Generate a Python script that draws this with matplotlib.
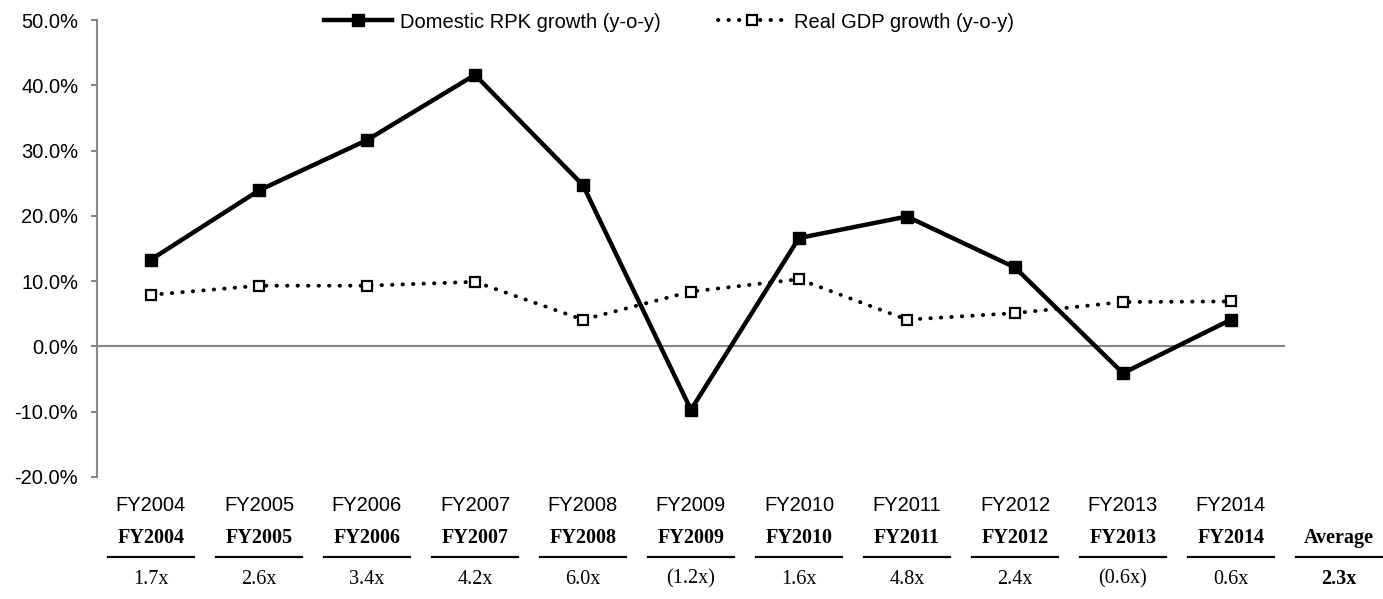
import numpy as np
import matplotlib.pyplot as plt
from matplotlib.ticker import PercentFormatter
from matplotlib.transforms import blended_transform_factory

years = ['FY2004', 'FY2005', 'FY2006', 'FY2007', 'FY2008', 'FY2009',
         'FY2010', 'FY2011', 'FY2012', 'FY2013', 'FY2014']
rpk_growth = [13.3, 23.9, 31.6, 41.6, 24.7, -9.7, 16.6, 19.9, 12.1, -4.1, 4.1]
gdp_growth = [7.9, 9.3, 9.3, 9.9, 4.1, 8.4, 10.3, 4.1, 5.1, 6.8, 6.9]
multiples = ['1.7x', '2.6x', '3.4x', '4.2x', '6.0x', '(1.2x)',
             '1.6x', '4.8x', '2.4x', '(0.6x)', '0.6x']
avg_label = 'Average'
avg_multiple = '2.3x'

plt.rcParams['font.family'] = ['Liberation Sans', 'DejaVu Sans']
plt.rcParams['axes.unicode_minus'] = False
grey = '#878787'
fs = 14.5

fig = plt.figure(figsize=(13.83, 5.99), dpi=100)
ax = fig.add_axes([0.0701, 0.2037, 0.8590, 0.7629])

x = np.arange(len(years))
ax.plot(x, rpk_growth, color='black', lw=3.2, marker='s', ms=8.5,
        mfc='black', mec='black', mew=1, label='Domestic RPK growth (y-o-y)')
ax.plot(x, gdp_growth, color='black', lw=2.8, ls=(0, (0.1, 2.6)),
        dash_capstyle='round', marker='s', ms=7.5, mfc='white', mec='black',
        mew=1.6, label='Real GDP growth (y-o-y)')

ax.set_xlim(-0.5, len(years) - 0.5)
ax.set_ylim(-20, 50)
ax.set_yticks(np.arange(-20, 51, 10))
ax.yaxis.set_major_formatter(PercentFormatter(decimals=1))
ax.axhline(0, color=grey, lw=1.5, zorder=0)

for s in ['top', 'right', 'bottom']:
    ax.spines[s].set_visible(False)
ax.spines['left'].set_color(grey)
ax.spines['left'].set_linewidth(1.5)
ax.tick_params(axis='y', colors=grey, length=4.5, width=1.5, labelsize=fs,
               labelcolor='black', pad=9)
ax.set_xticks(x)
ax.set_xticklabels(years)
ax.tick_params(axis='x', length=0, labelsize=fs, pad=14)

# table below the chart
tr = blended_transform_factory(ax.transData, fig.transFigure)
cols = years + [avg_label]
vals = multiples + [avg_multiple]
for i, (c, v) in enumerate(zip(cols, vals)):
    ax.text(i, 1 - 538 / 599, c, transform=tr, ha='center', va='center',
            fontsize=fs, fontweight='bold', family='Liberation Serif')
    ax.plot([i - 0.4, i + 0.4], [1 - 557 / 599] * 2, transform=tr,
            color='black', lw=1.6, clip_on=False)
    ax.text(i, 1 - 579 / 599, v, transform=tr, ha='center', va='center',
            fontsize=fs, family='Liberation Serif',
            fontweight='bold' if c == avg_label else 'normal')

fig.legend(loc='center', bbox_to_anchor=(669 / 1383, 1 - 22 / 599), ncol=2,
           frameon=False, fontsize=fs, handlelength=3.4, columnspacing=2.8,
           handletextpad=0.4)

fig.savefig('out.png', dpi=100)
